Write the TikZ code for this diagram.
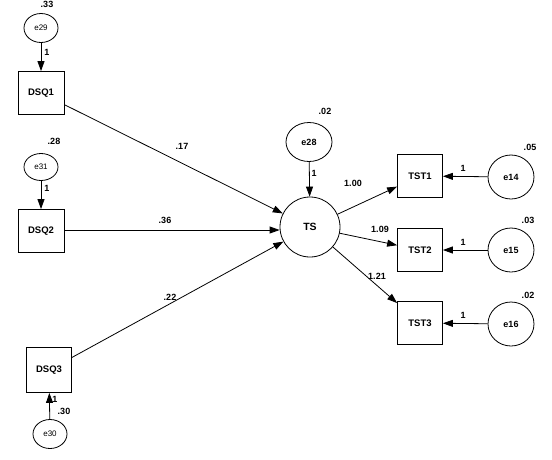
\documentclass[tikz,border=0pt]{standalone}
\usepackage{fontspec}
\setmainfont{Liberation Sans}
\usetikzlibrary{shapes.geometric,arrows.meta}
\begin{document}
\begin{tikzpicture}[x=1pt,y=-1pt,
  obs/.style={draw,thick,rectangle,minimum width=46pt,minimum height=43pt,inner sep=0pt,font=\fontsize{9.5}{11}\selectfont\bfseries},
  errs/.style={draw,thick,ellipse,minimum width=34pt,minimum height=29pt,inner sep=0pt,font=\fontsize{8}{9}\selectfont},
  errb/.style={draw,thick,ellipse,minimum width=46pt,minimum height=44pt,inner sep=0pt,font=\fontsize{9}{10}\selectfont\bfseries},
  lat/.style={draw,thick,circle,minimum size=60pt,inner sep=0pt,font=\fontsize{10.5}{12}\selectfont\bfseries},
  lab/.style={font=\fontsize{9}{10}\selectfont\bfseries,inner sep=0pt},
  path/.style={thick,-{Triangle[length=10pt,width=7pt]}}]
\useasboundingbox[fill=white] (0,0) rectangle (552,459);
% nodes
\node[errs] (e29) at (41,28) {e29};
\node[obs] (DSQ1) at (41,93) {DSQ1};
\node[errs,minimum height=27pt] (e31) at (41,167) {e31};
\node[obs] (DSQ2) at (41,231) {DSQ2};
\node[obs,minimum width=45pt,minimum height=45pt] (DSQ3) at (49,370) {DSQ3};
\node[errs] (e30) at (50,434) {e30};
\node[errb,minimum height=39pt] (e28) at (309,142) {e28};
\node[lat] (TS) at (310,227) {TS};
\node[obs,minimum width=45pt] (TST1) at (420,176) {TST1};
\node[obs,minimum width=45pt] (TST2) at (420,250) {TST2};
\node[obs,minimum width=45pt] (TST3) at (420,323) {TST3};
\node[errb] (e14) at (511,177) {e14};
\node[errb] (e15) at (511,250) {e15};
\node[errb] (e16) at (511,324) {e16};
% connectors
\draw[path] (e29) -- (DSQ1);
\draw[path] (e31) -- (DSQ2);
\draw[path] (e30) -- (DSQ3);
\draw[path] (DSQ1) -- (TS);
\draw[path] (DSQ2.east |- 0,230) -- (TS.west |- 0,230);
\draw[path] (DSQ3) -- (TS);
\draw[path] (e28) -- (TS);
\draw[path] (TS) -- (TST1);
\draw[path] (TS) -- (TST2);
\draw[path] (TS) -- (TST3);
\draw[path] (e14) -- (TST1);
\draw[path] (e15) -- (TST2);
\draw[path] (e16) -- (TST3);
% labels
\node[lab] (l33) at (47,4) {.33};
\node[lab] (l1a) at (47,52) {1};
\node[lab] (l28) at (54,141) {.28};
\node[lab] (l1b) at (47,188) {1};
\node[lab] (l1c) at (55,399) {1};
\node[lab] (l30) at (64,411) {.30};
\node[lab] (l02a) at (325,111) {.02};
\node[lab] (l1d) at (314,173) {1};
\node[lab] (l17) at (182,146) {.17};
\node[lab] (l36) at (165,220) {.36};
\node[lab] (l22) at (170,297) {.22};
\node[lab] (l100) at (353,183) {1.00};
\node[lab] (l109) at (380,229) {1.09};
\node[lab] (l121) at (377,276) {1.21};
\node[lab] (l1e) at (463,168) {1};
\node[lab] (l1f) at (463,242) {1};
\node[lab] (l1g) at (463,315) {1};
\node[lab] (l05) at (530,147) {.05};
\node[lab] (l03) at (528,220) {.03};
\node[lab] (l02b) at (528,295) {.02};
\end{tikzpicture}
\end{document}
